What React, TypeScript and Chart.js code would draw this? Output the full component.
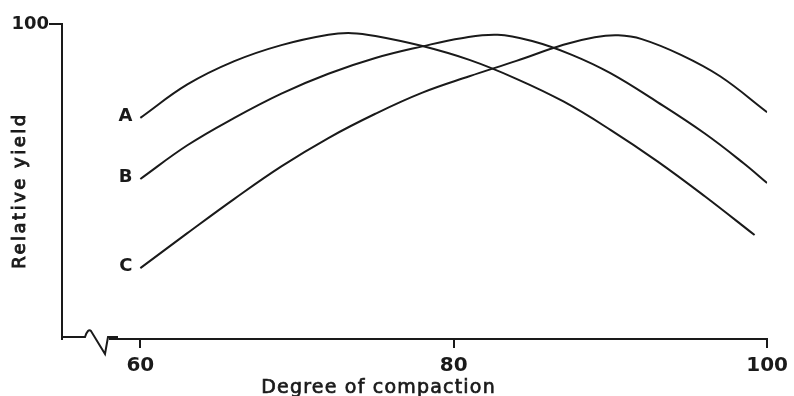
import React, { useEffect, useRef } from "react";
import { Chart, registerables } from "chart.js";

Chart.register(...registerables);

// ---- data ----
const compactionA = [60, 63, 66, 69, 72, 73.5, 75, 78, 81, 84, 87, 90, 93, 96, 99.2];
const yieldA = [70.2, 80.8, 88.2, 93.3, 96.6, 97.1, 96.2, 93.0, 88.6, 82.6, 75.4, 66.4, 56.4, 45.4, 33.0];

const compactionB = [60, 63, 66, 69, 72, 75, 78, 80.5, 82.8, 85, 87.5, 90, 93, 96, 98.5, 100];
const yieldB = [50.8, 61.5, 70.2, 77.9, 84.2, 89.2, 92.9, 95.5, 96.6, 94.6, 90.3, 84.4, 75.2, 65.3, 55.8, 49.5];

const compactionC = [60, 63, 66, 69, 72, 75, 78, 81, 84, 87, 89, 90.5, 92, 94.5, 97, 100];
const yieldC = [22.5, 33.6, 44.5, 54.8, 63.8, 71.5, 78.2, 83.4, 88.3, 93.4, 95.8, 96.4, 95.2, 90.2, 83.4, 72.0];

const seriesLabels = ["A", "B", "C"];
const xTickValues = [60, 80, 100];
const yTickValues = [100];
const xAxisTitle = "Degree of compaction";
const yAxisTitle = "Relative yield";

const INK = "#1a1a1a";
const FONT = "'DejaVu Sans', sans-serif";

const toPoints = (xs: number[], ys: number[]) => xs.map((x, i) => ({ x, y: ys[i] }));

const decorPlugin = {
  id: "decor",
  afterDraw(chart: any) {
    const { ctx, chartArea, scales } = chart;
    const { left, right, top, bottom } = chartArea;
    ctx.save();
    // axis break near the origin
    ctx.fillStyle = "#ffffff";
    ctx.fillRect(left + 1, bottom - 4, 46, 8);
    ctx.strokeStyle = INK;
    ctx.lineWidth = 2;
    ctx.lineJoin = "miter";
    ctx.beginPath();
    ctx.moveTo(left - 1, bottom - 2);
    ctx.lineTo(left + 23, bottom - 2);
    ctx.quadraticCurveTo(left + 26, bottom - 11, left + 29, bottom - 8);
    ctx.lineTo(left + 43, bottom + 15);
    ctx.lineTo(left + 46, bottom - 2);
    ctx.lineTo(left + 56, bottom - 2);
    ctx.stroke();

    // series labels at the start of each curve
    ctx.fillStyle = INK;
    ctx.font = `bold 18px ${FONT}`;
    ctx.textAlign = "right";
    ctx.textBaseline = "middle";
    chart.data.datasets.forEach((ds: any, i: number) => {
      const p = ds.data[0];
      const px = scales.x.getPixelForValue(p.x);
      const py = scales.y.getPixelForValue(p.y);
      ctx.fillText(seriesLabels[i], px - 8, py - 2);
    });

    // axis titles (slightly emboldened)
    ctx.lineWidth = 0.7;
    ctx.font = `19px ${FONT}`;
    (ctx as any).letterSpacing = "1.2px";
    ctx.textAlign = "center";
    ctx.textBaseline = "alphabetic";
    const tx = (left + right) / 2 - 36;
    ctx.fillText(xAxisTitle, tx, bottom + 54);
    ctx.strokeText(xAxisTitle, tx, bottom + 54);

    ctx.translate(25, (top + bottom) / 2 + 9);
    ctx.rotate(-Math.PI / 2);
    ctx.font = `18px ${FONT}`;
    ctx.lineWidth = 0.9;
    (ctx as any).letterSpacing = "2.5px";
    ctx.fillText(yAxisTitle, 0, 0);
    ctx.strokeText(yAxisTitle, 0, 0);
    ctx.restore();
  },
};

export default function App() {
  const ref = useRef<HTMLCanvasElement>(null);

  useEffect(() => {
    const canvas = ref.current;
    if (!canvas) return;
    const lineStyle = {
      borderColor: INK,
      borderWidth: 2,
      pointRadius: 0,
      fill: false,
      tension: 0.4,
    };
    const chart = new Chart(canvas, {
      type: "line",
      data: {
        datasets: [
          { label: seriesLabels[0], data: toPoints(compactionA, yieldA), ...lineStyle },
          { label: seriesLabels[1], data: toPoints(compactionB, yieldB), ...lineStyle },
          { label: seriesLabels[2], data: toPoints(compactionC, yieldC), ...lineStyle },
        ],
      },
      options: {
        animation: false,
        responsive: false,
        devicePixelRatio: 1,
        layout: { padding: { top: 24, right: 24, left: 0, bottom: 0 } },
        plugins: { legend: { display: false }, tooltip: { enabled: false } },
        scales: {
          x: {
            type: "linear",
            min: 55,
            max: 100,
            afterBuildTicks: (s: any) => {
              s.ticks = xTickValues.map((v) => ({ value: v }));
            },
            afterFit: (s: any) => {
              s.height = 57;
            },
            ticks: {
              color: INK,
              font: { family: FONT, size: 20, weight: "bold" },
              padding: 6,
              maxRotation: 0,
              autoSkip: false,
            },
            grid: { display: true, drawOnChartArea: false, drawTicks: true, tickLength: 9, color: INK, lineWidth: 2 },
            border: { display: true, color: INK, width: 2 },
          },
          y: {
            type: "linear",
            min: 0,
            max: 100,
            afterBuildTicks: (s: any) => {
              s.ticks = yTickValues.map((v) => ({ value: v }));
            },
            afterFit: (s: any) => {
              s.width = 62;
            },
            ticks: {
              color: INK,
              font: { family: FONT, size: 18, weight: "bold" },
              padding: 0,
            },
            grid: { display: true, drawOnChartArea: false, drawTicks: true, tickLength: 13, color: INK, lineWidth: 2 },
            border: { display: true, color: INK, width: 2 },
          },
        },
      },
      plugins: [decorPlugin],
    });
    return () => chart.destroy();
  }, []);

  return (
    <div style={{ position: "fixed", left: 0, top: 0, width: 794, height: 396, background: "#ffffff" }}>
      <canvas ref={ref} width={794} height={396} style={{ display: "block", width: 794, height: 396 }} />
    </div>
  );
}
